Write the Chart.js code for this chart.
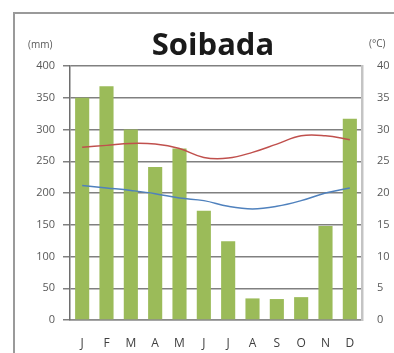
<!DOCTYPE html>
<html>
<head>
<meta charset="utf-8">
<script src="https://cdn.jsdelivr.net/npm/chart.js@4/dist/chart.umd.min.js"></script>
<style>
  html, body { margin: 0; padding: 0; background: #fff; }
  #wrap { position: relative; width: 394px; height: 353px; }
</style>
</head>
<body>
<div id="wrap"><canvas id="grafico" width="394" height="353"></canvas></div>
<script>
const meses = ["J", "F", "M", "A", "M", "J", "J", "A", "S", "O", "N", "D"];
const chuva = [350, 368, 300, 241, 270, 172, 124, 34, 33, 36, 148, 317];
const tempMax = [27.2, 27.5, 27.8, 27.7, 27.0, 25.6, 25.5, 26.4, 27.7, 29.0, 29.0, 28.4];
const tempMin = [21.2, 20.8, 20.4, 19.9, 19.2, 18.8, 17.9, 17.5, 17.9, 18.8, 20.0, 20.8];

const fonte = "'Open Sans', sans-serif";

// moldura, titulo e unidades
const textos = {
  id: "textos",
  beforeDraw(chart) {
    const ctx = chart.ctx;
    ctx.save();
    ctx.fillStyle = "#fff";
    ctx.fillRect(0, 0, chart.width, chart.height);
    ctx.strokeStyle = "#9a9a9a";
    ctx.lineWidth = 2;
    ctx.beginPath();
    ctx.moveTo(14, 353);
    ctx.lineTo(14, 13);
    ctx.lineTo(394, 13);
    ctx.stroke();
    ctx.restore();
  },
  afterDraw(chart) {
    const ctx = chart.ctx;
    ctx.save();
    ctx.fillStyle = "#1a1a1a";
    ctx.font = "bold 31px " + fonte;
    ctx.textAlign = "center";
    ctx.textBaseline = "alphabetic";
    ctx.fillText("Soibada", 213, 55);
    ctx.fillStyle = "#595959";
    ctx.font = "10px " + fonte;
    ctx.textBaseline = "middle";
    ctx.textAlign = "left";
    ctx.fillText("(mm)", 28, 45);
    ctx.fillText("(°C)", 369, 44);
    ctx.restore();
  }
};

new Chart(document.getElementById("grafico"), {
  type: "bar",
  data: {
    labels: meses,
    datasets: [
      {
        type: "line",
        label: "Máx",
        data: tempMax,
        yAxisID: "y2",
        borderColor: "#c0504d",
        borderWidth: 1.5,
        pointRadius: 0,
        tension: 0.4,
        order: 0
      },
      {
        type: "line",
        label: "Mín",
        data: tempMin,
        yAxisID: "y2",
        borderColor: "#4f81bd",
        borderWidth: 1.5,
        pointRadius: 0,
        tension: 0.4,
        order: 0
      },
      {
        label: "mm",
        data: chuva,
        yAxisID: "y",
        backgroundColor: "#9bbb59",
        barPercentage: 0.58,
        categoryPercentage: 1,
        order: 1
      }
    ]
  },
  options: {
    responsive: false,
    animation: false,
    layout: { padding: { top: 66, left: 0, right: 0, bottom: 0 } },
    plugins: {
      legend: { display: false },
      title: { display: false },
      tooltip: { enabled: false }
    },
    scales: {
      x: {
        grid: { display: true, drawOnChartArea: false, drawTicks: false },
        border: { color: "#8c8c8c", width: 1.5 },
        ticks: { color: "#404040", font: { family: fonte, size: 12 }, padding: 16 },
        afterFit(s) { s.height = 33; }
      },
      y: {
        position: "left",
        min: 0,
        max: 400,
        ticks: { stepSize: 50, color: "#595959", font: { family: fonte, size: 11 }, padding: 8 },
        grid: { color: "#808080", lineWidth: 1.5, tickLength: 7 },
        border: { color: "#6e6e6e", width: 1.5 },
        afterFit(s) { s.width = 70; }
      },
      y2: {
        position: "right",
        min: 0,
        max: 40,
        ticks: { stepSize: 5, color: "#595959", font: { family: fonte, size: 11 }, padding: 15 },
        grid: { display: true, drawOnChartArea: false, drawTicks: false },
        border: { color: "#c4c4c4", width: 2.5 },
        afterFit(s) { s.width = 32; }
      }
    }
  },
  plugins: [textos]
});
</script>
</body>
</html>
